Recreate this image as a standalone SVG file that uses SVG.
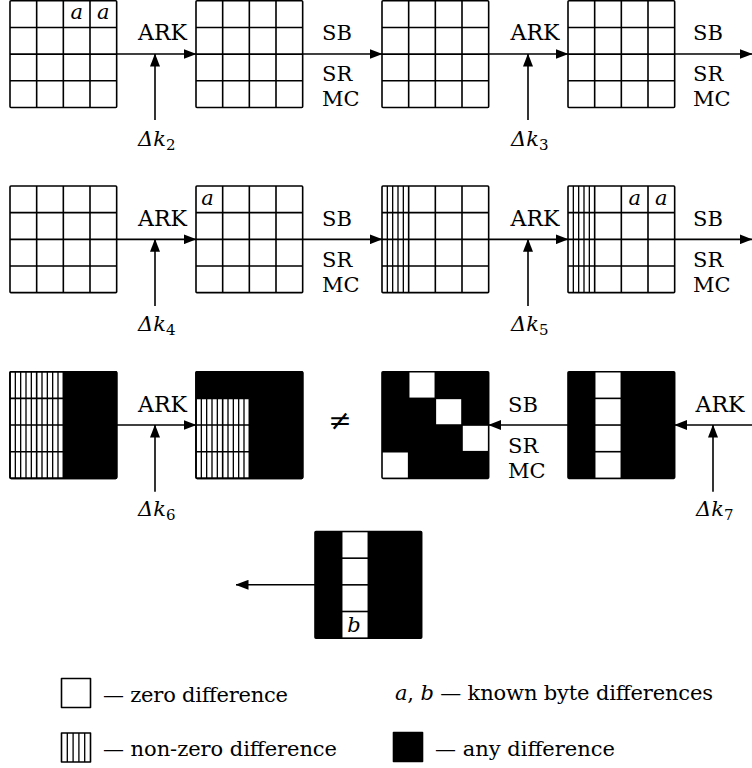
<svg xmlns="http://www.w3.org/2000/svg" width="752" height="768" viewBox="0 0 752 768">
<style>
text{font-family:"DejaVu Serif","Liberation Serif",serif;font-size:21px;fill:#000}
.i{font-style:italic}
.sub{font-size:15px;font-style:normal}
.ark{font-size:22px;text-anchor:middle}
.ne{font-size:28px;text-anchor:middle}
.ln{fill:none;stroke:#000;stroke-width:1.6;stroke-linejoin:round}
.box{fill:#fff;stroke:#000;stroke-width:1.6;stroke-linejoin:round}
.blk{fill:#000;stroke:#000;stroke-width:1.6;stroke-linejoin:round}
.h{fill:none;stroke:#000;stroke-width:1.3}
.wc{fill:#fff}
.arr{fill:none;stroke:#000;stroke-width:1.6;marker-end:url(#ah)}
</style>
<defs>
<marker id="ah" markerWidth="13" markerHeight="10" refX="12.5" refY="5" orient="auto" markerUnits="userSpaceOnUse">
<path d="M0,0 L13,5 L0,10 Z" fill="#000"/>
</marker>
<g id="grid">
<rect class="box" x="0" y="0" width="106.67" height="106.67" rx="1"/>
<path class="ln" d="M26.67 0V106.67M53.33 0V106.67M80 0V106.67M0 26.67H106.67M0 53.33H106.67M0 80H106.67"/>
</g>
<path id="hcol" class="h" d="M5.33 0V106.67M10.67 0V106.67M16 0V106.67M21.33 0V106.67"/>
<path id="hcol3" class="h" d="M5.33 26.67V106.67M10.67 26.67V106.67M16 26.67V106.67M21.33 26.67V106.67"/>
</defs>

<g id="n1" transform="translate(10,0.8)"><use href="#grid"/>
<text class="i" x="66.7" y="18" text-anchor="middle">a</text><text class="i" x="93.3" y="18" text-anchor="middle">a</text></g>
<g id="n2" transform="translate(196,0.8)"><use href="#grid"/></g>
<g id="n3" transform="translate(382,0.8)"><use href="#grid"/></g>
<g id="n4" transform="translate(568,0.8)"><use href="#grid"/></g>

<g id="n5" transform="translate(10,186)"><use href="#grid"/></g>
<g id="n6" transform="translate(196,186)"><use href="#grid"/>
<text class="i" x="11.5" y="19" text-anchor="middle">a</text></g>
<g id="n7" transform="translate(382,186)"><use href="#grid"/><use href="#hcol"/></g>
<g id="n8" transform="translate(568,186)"><use href="#grid"/><use href="#hcol"/>
<text class="i" x="66.7" y="19" text-anchor="middle">a</text><text class="i" x="93.3" y="19" text-anchor="middle">a</text></g>

<g id="n9" transform="translate(10,371.7)">
<rect class="box" x="0" y="0" width="106.67" height="106.67" rx="1"/>
<rect x="53.33" y="0" width="53.34" height="106.67" fill="#000"/>
<use href="#hcol"/><use href="#hcol" x="26.67"/>
<path class="ln" d="M26.67 0V106.67M53.33 0V106.67M0 26.67H53.33M0 53.33H53.33M0 80H53.33"/>
<rect class="ln" x="0" y="0" width="106.67" height="106.67" rx="1"/>
</g>
<g id="n10" transform="translate(196,371.7)">
<rect class="blk" x="0" y="0" width="106.67" height="106.67" rx="1"/>
<rect class="wc" x="0.8" y="26.67" width="52.53" height="79.2"/>
<use href="#hcol3"/><use href="#hcol3" x="26.67"/>
<path class="ln" d="M26.67 26.67V106.67M53.33 26.67V106.67M0 26.67H53.33M0 53.33H53.33M0 80H53.33"/>
<rect class="ln" x="0" y="0" width="106.67" height="106.67" rx="1"/>
</g>
<g id="n11" transform="translate(382,371.7)">
<rect class="blk" x="0" y="0" width="106.67" height="106.67" rx="1"/>
<rect class="wc" x="27.47" y="0.8" width="25.07" height="25.07"/>
<rect class="wc" x="54.13" y="27.47" width="25.07" height="25.07"/>
<rect class="wc" x="80.8" y="54.13" width="25.07" height="25.07"/>
<rect class="wc" x="0.8" y="80.8" width="25.07" height="25.07"/>
</g>
<g id="n12" transform="translate(568,371.7)">
<rect class="blk" x="0" y="0" width="106.67" height="106.67" rx="1"/>
<rect class="wc" x="27.47" y="0.8" width="25.07" height="25.07"/>
<rect class="wc" x="27.47" y="27.47" width="25.07" height="25.07"/>
<rect class="wc" x="27.47" y="54.13" width="25.07" height="25.07"/>
<rect class="wc" x="27.47" y="80.8" width="25.07" height="25.07"/>
</g>
<g id="n13" transform="translate(315,531.5)">
<rect class="blk" x="0" y="0" width="106.67" height="106.67" rx="1"/>
<rect class="wc" x="27.47" y="0.8" width="25.07" height="25.07"/>
<rect class="wc" x="27.47" y="27.47" width="25.07" height="25.07"/>
<rect class="wc" x="27.47" y="54.13" width="25.07" height="25.07"/>
<rect class="wc" x="27.47" y="80.8" width="25.07" height="25.07"/>
<text class="i" x="39" y="100" text-anchor="middle">b</text>
</g>

<g id="connectors">
<path class="arr" d="M116.67 54H196"/>
<path class="arr" d="M302.67 54H382"/>
<path class="arr" d="M488.67 54H568"/>
<path class="arr" d="M674.67 54H752"/>
<path class="arr" d="M155 120V54"/>
<path class="arr" d="M528 120V54"/>
<path class="arr" d="M116.67 239.33H196"/>
<path class="arr" d="M302.67 239.33H382"/>
<path class="arr" d="M488.67 239.33H568"/>
<path class="arr" d="M674.67 239.33H752"/>
<path class="arr" d="M155 306V239.33"/>
<path class="arr" d="M528 306V239.33"/>
<path class="arr" d="M116.67 425H196"/>
<path class="arr" d="M155 491.7V425"/>
<path class="arr" d="M568 425H488.67"/>
<path class="arr" d="M752 425H674.67"/>
<path class="arr" d="M713 491.7V425"/>
<path class="arr" d="M315 584.8H236"/>
</g>

<g id="labels">
<text class="ark" x="162.5" y="40">ARK</text>
<text x="322" y="40">SB</text>
<text x="322" y="81">SR</text>
<text x="322" y="106">MC</text>
<text x="138" y="146"><tspan class="i">Δk</tspan><tspan class="sub" dy="4">2</tspan></text>
<text class="ark" x="535" y="40">ARK</text>
<text x="693" y="40">SB</text>
<text x="693" y="81">SR</text>
<text x="693" y="106">MC</text>
<text x="511" y="146"><tspan class="i">Δk</tspan><tspan class="sub" dy="4">3</tspan></text>

<text class="ark" x="162.5" y="226">ARK</text>
<text x="322" y="226">SB</text>
<text x="322" y="267">SR</text>
<text x="322" y="292">MC</text>
<text x="138" y="331"><tspan class="i">Δk</tspan><tspan class="sub" dy="4">4</tspan></text>
<text class="ark" x="535" y="226">ARK</text>
<text x="693" y="226">SB</text>
<text x="693" y="267">SR</text>
<text x="693" y="292">MC</text>
<text x="511" y="331"><tspan class="i">Δk</tspan><tspan class="sub" dy="4">5</tspan></text>

<text class="ark" x="162.5" y="411.7">ARK</text>
<text x="138" y="516"><tspan class="i">Δk</tspan><tspan class="sub" dy="4">6</tspan></text>
<text class="ne" x="340" y="430">≠</text>
<text x="508" y="411.7">SB</text>
<text x="508" y="452.7">SR</text>
<text x="508" y="477.7">MC</text>
<text class="ark" x="720" y="411.7">ARK</text>
<text x="696" y="516"><tspan class="i">Δk</tspan><tspan class="sub" dy="4">7</tspan></text>
</g>

<g id="legend">
<rect class="box" x="61.5" y="678.5" width="29" height="29"/>
<text x="103" y="702" textLength="185">— zero difference</text>
<rect class="box" x="61.5" y="733" width="29" height="29"/>
<path class="h" d="M67.3 733V762M73.1 733V762M78.9 733V762M84.7 733V762"/>
<text x="103" y="756" textLength="234">— non-zero difference</text>
<text x="395" y="700" textLength="318"><tspan class="i">a</tspan>, <tspan class="i">b</tspan> — known byte differences</text>
<rect class="blk" x="393.5" y="732.5" width="29" height="29"/>
<text x="435" y="756" textLength="180">— any difference</text>
</g>
</svg>
